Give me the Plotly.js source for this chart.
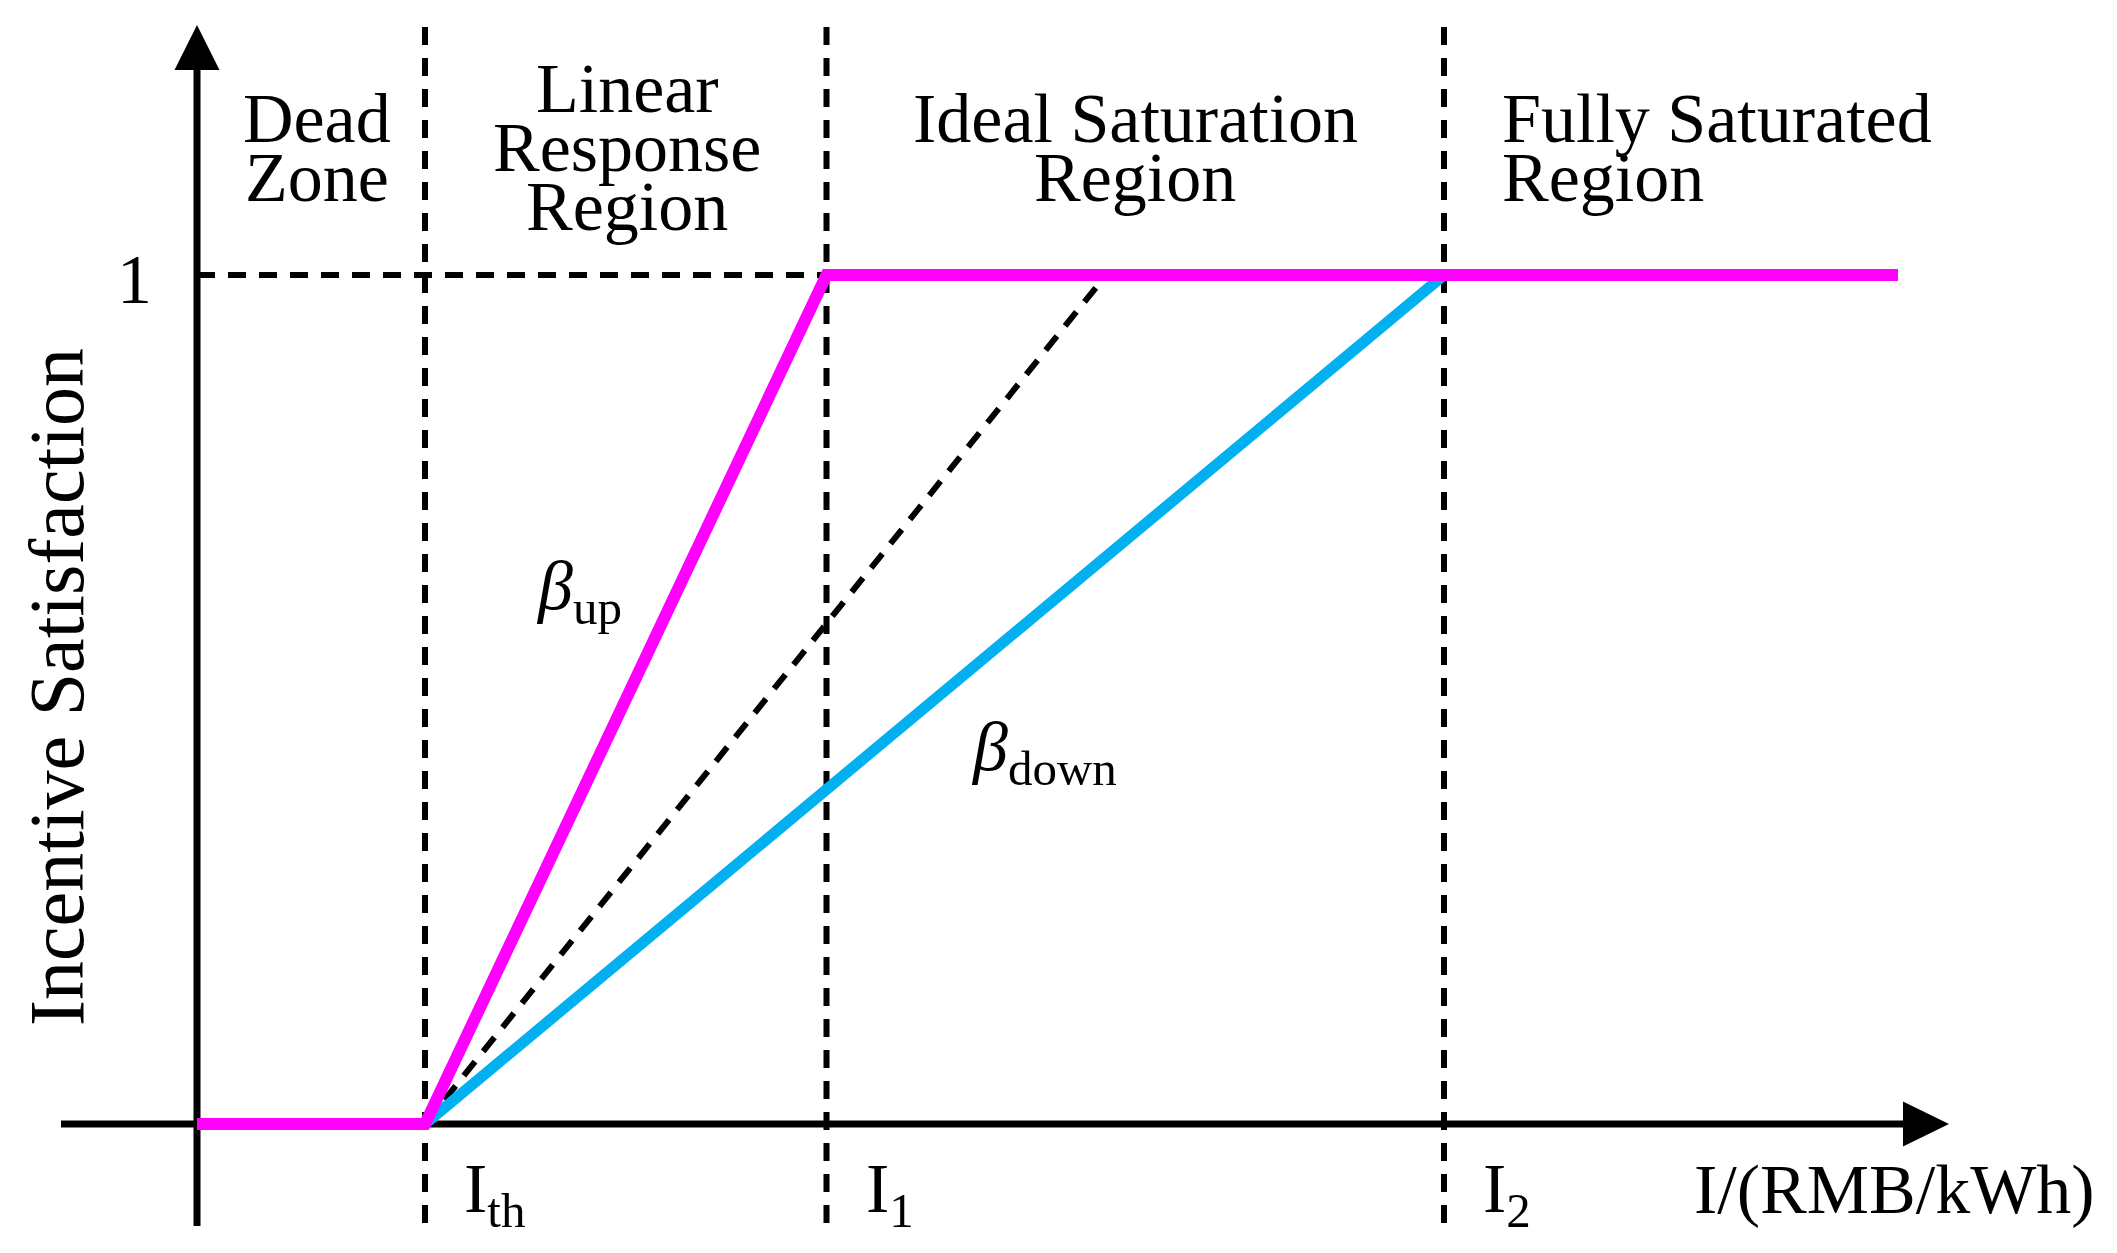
<!DOCTYPE html>
<html>
<head>
<meta charset="utf-8">
<script src="https://cdn.plot.ly/plotly-3.0.1.min.js"></script>
<style>html,body{margin:0;padding:0;background:#fff;}#chart{width:2117px;height:1253px;}</style>
</head>
<body>
<div id="chart"></div>
<script>
// ---------------- data (chart units) ----------------
const thresholdNames = ['I<sub>th</sub>', 'I<sub>1</sub>', 'I<sub>2</sub>'];
const thresholdX = [2.28, 6.295, 12.47];
const upX = [0, 2.28, 6.295, 17.01];      // beta_up response (magenta)
const upY = [0, 0, 1, 1];
const downX = [2.28, 12.47];               // beta_down response (cyan)
const downY = [0, 1];
const refX = [2.28, 9.09];                 // reference slope (black dashed)
const refY = [0, 1];
const yTickVals = [1];
const yTickText = ['1'];
const regionLines = [
  ['Dead', 'Zone'],
  ['Linear', 'Response', 'Region'],
  ['Ideal Saturation', 'Region'],
  ['Fully Saturated', 'Region']
];
const xAxisLabel = 'I/(RMB/kWh)';
const yAxisLabel = 'Incentive Satisfaction';
const seriesLabels = ['<i>β</i><sub>up</sub>', '<i>β</i><sub>down</sub>'];

// ---------------- layout helpers ----------------
const W = 2117, H = 1253;
const OX = 197, SX = 100, OY = 1124, SY = 849;
const X = px => (px - OX) / SX;
const Y = py => (OY - py) / SY;
const FONT = 'Liberation Serif';
const FS = 70;
const DASH = '18px,13px';

const traces = [
  {x: refX, y: refY, mode: 'lines', line: {color: '#000', width: 6, dash: DASH}, hoverinfo: 'skip'},
  {x: downX, y: downY, mode: 'lines', line: {color: '#00B0F0', width: 11}, hoverinfo: 'skip'},
  {x: upX, y: upY, mode: 'lines', line: {color: '#FF00FF', width: 12}, hoverinfo: 'skip'}
];

const shapes = [];
// axes
shapes.push({type: 'line', layer: 'below', x0: X(61), x1: X(1905), y0: 0, y1: 0, line: {color: '#000', width: 7}});
shapes.push({type: 'path', layer: 'below', path: `M ${X(1903)} ${Y(1124 - 22.5)} L ${X(1949)} 0 L ${X(1903)} ${Y(1124 + 22.5)} Z`, fillcolor: '#000', line: {width: 0}});
shapes.push({type: 'line', layer: 'below', x0: 0, x1: 0, y0: Y(1226), y1: Y(68), line: {color: '#000', width: 7}});
shapes.push({type: 'path', layer: 'below', path: `M ${X(174.5)} ${Y(70)} L 0 ${Y(25)} L ${X(219.5)} ${Y(70)} Z`, fillcolor: '#000', line: {width: 0}});
// threshold dashed verticals
thresholdX.forEach(tx => {
  shapes.push({type: 'line', layer: 'below', x0: tx, x1: tx, y0: Y(1223), y1: Y(19), line: {color: '#000', width: 6, dash: DASH}});
});
// saturation level dashed horizontal
yTickVals.forEach(v => {
  shapes.push({type: 'line', layer: 'below', x0: 0, x1: thresholdX[1], y0: v, y1: v, line: {color: '#000', width: 6, dash: DASH}});
});

const annotations = [];
const txt = (text, px, baseline, anchor, size, extra) => Object.assign({
  text: text, x: X(px), y: Y(baseline - 0.335 * (size || FS)), xref: 'x', yref: 'y',
  xanchor: anchor || 'center', yanchor: 'middle', showarrow: false,
  font: {family: FONT, size: size || FS, color: '#000'}, borderpad: 0
}, extra || {});

// region labels (one annotation per line for the tight leading)
const regionX = [317, 627, 1135, 1501];
const regionAnchor = ['center', 'center', 'center', 'left'];
const regionTop = [142, 112, 142, 142];
regionLines.forEach((lines, i) => {
  lines.forEach((ln, j) => {
    annotations.push(txt(ln, regionX[i], regionTop[i] + j * 59, regionAnchor[i]));
  });
});
// y tick label
yTickVals.forEach((v, i) => {
  annotations.push(txt(yTickText[i], 134, OY - v * SY + 28, 'center'));
});
// threshold labels
thresholdNames.forEach((n, i) => {
  annotations.push(txt(n, OX + thresholdX[i] * SX + 38, 1213 + 4, 'left'));
});
// axis labels
annotations.push(txt(xAxisLabel, 1693, 1213, 'left'));
annotations.push({text: yAxisLabel, x: X(56), y: Y(687), xref: 'x', yref: 'y', xanchor: 'center', yanchor: 'middle',
  showarrow: false, textangle: -90, font: {family: FONT, size: 78, color: '#000'}, borderpad: 0});
// series labels
annotations.push(txt(seriesLabels[0], 535, 610 + 4, 'left'));
annotations.push(txt(seriesLabels[1], 970, 771 + 4, 'left'));

const layout = {
  width: W, height: H,
  margin: {l: 0, r: 0, t: 0, b: 0, pad: 0},
  paper_bgcolor: '#fff', plot_bgcolor: '#fff',
  showlegend: false,
  xaxis: {range: [X(0), X(W)], visible: false, fixedrange: true},
  yaxis: {range: [Y(H), Y(0)], visible: false, fixedrange: true},
  shapes: shapes,
  annotations: annotations
};

Plotly.newPlot('chart', traces, layout, {staticPlot: true, displayModeBar: false});
</script>
</body>
</html>
